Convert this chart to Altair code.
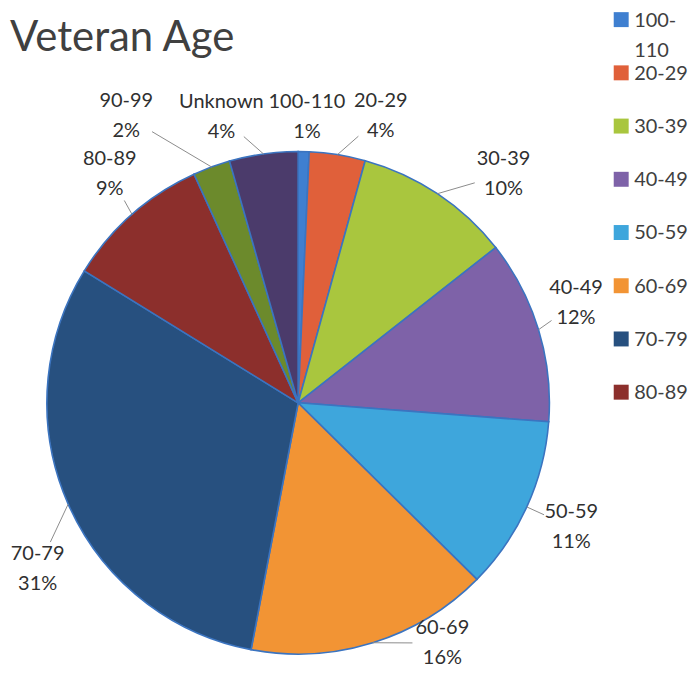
import math
import altair as alt
import pandas as pd

# ---------------- data ----------------
title_text = "Veteran Age"
categories = ["100-110", "20-29", "30-39", "40-49", "50-59",
              "60-69", "70-79", "80-89", "90-99", "Unknown"]
values = [0.7, 3.6, 10.1, 11.8, 11.2, 15.6, 30.8, 9.4, 2.4, 4.4]   # percent of veterans
legend_categories = categories[:8]                     # legend is cut off after 80-89

# ---------------- styles / layout ----------------
colors = ["#3f7fd0", "#e0603a", "#a9c63e", "#7e62a8", "#3ea6dc",
          "#f29434", "#27507f", "#8c2f2c", "#6c8a2c", "#4b3b6b"]
FONT = "Lato"
CX, CY, R = 291, 395, 252          # pie centre and radius inside the pie panel
LINE_H = 30                        # line height of the two-line data labels
label_nudge_deg = [0.5, 7.1, 8.3, -2.8, 0, -13.7, -8.8, 1.9, -10.8, -7.1]
label_radius = [287, 299, 308, 296, 301, 281, 310, 297, 335, 297]
GAP = 30

total = sum(values)
pie_df = pd.DataFrame({"cat": categories, "value": values, "idx": list(range(len(values)))})

# data-label positions (derived from the slice mid-angles)
lab_rows, line_rows = [], []
cum = 0
for i, (c, v) in enumerate(zip(categories, values)):
    mid = (cum + v / 2) / total * 2 * math.pi
    cum += v
    a = mid + math.radians(label_nudge_deg[i])
    bx = CX + label_radius[i] * math.sin(a)
    by = CY - label_radius[i] * math.cos(a)
    pct = round(100 * v / total)
    # first line is anchored at y: shift up by half a line so the block is centred
    lab_rows.append({"cat": c, "lx": bx, "ly": by - LINE_H / 2, "label": f"{c}\n{pct}%"})
    ex = CX + R * math.sin(mid)
    ey = CY - R * math.cos(mid)
    d = math.hypot(bx - ex, by - ey)
    if d - GAP >= 8:
        t = (d - GAP) / d
        line_rows.append({"cat": c, "x1": ex, "y1": ey,
                          "x2": ex + t * (bx - ex), "y2": ey + t * (by - ey)})
lab_df = pd.DataFrame(lab_rows)
line_df = pd.DataFrame(line_rows)

color_scale = alt.Scale(domain=categories, range=colors)

arcs = alt.Chart(pie_df).mark_arc(
    outerRadius=R, stroke="#3b74c0", strokeWidth=1.6
).encode(
    theta=alt.Theta("value:Q", stack=True),
    order=alt.Order("idx:Q"),
    color=alt.Color("cat:N", scale=color_scale, legend=None),
    x=alt.value(CX),
    y=alt.value(CY),
)

leaders = alt.Chart(line_df).mark_rule(color="#8c8c8c", strokeWidth=1).encode(
    x=alt.X("x1:Q", scale=None), y=alt.Y("y1:Q", scale=None),
    x2="x2:Q", y2="y2:Q",
)

labels = alt.Chart(lab_df).mark_text(
    font=FONT, fontSize=20, color="#303030", align="center",
    baseline="middle", lineBreak="\n", lineHeight=LINE_H,
).encode(
    x=alt.X("lx:Q", scale=None), y=alt.Y("ly:Q", scale=None), text="label:N",
)

title = alt.Chart(pd.DataFrame({"t": [title_text]})).mark_text(
    font=FONT, fontSize=42, color="#404040", align="left", baseline="alphabetic",
).encode(x=alt.value(2), y=alt.value(42), text="t:N")

pie = alt.layer(arcs, leaders, labels, title).properties(width=600, height=670)

leg_df = pd.DataFrame({
    "cat": legend_categories,
    "text": [c.replace("-", "-\n") if len(c) > 5 else c for c in legend_categories],
})
leg_y = alt.Y("cat:N", sort=legend_categories, axis=None,
              scale=alt.Scale(type="point", padding=0.2))
leg_sq = alt.Chart(leg_df).mark_square(size=225, opacity=1).encode(
    y=leg_y, color=alt.Color("cat:N", scale=color_scale, legend=None),
)
leg_tx = alt.Chart(leg_df).mark_text(
    font=FONT, fontSize=20, color="#404040", align="left", baseline="alphabetic",
    dx=13, dy=7, lineBreak="\n", lineHeight=30,
).encode(y=leg_y, text="text:N")
legend = alt.layer(leg_sq, leg_tx).properties(width=16, height=395)

chart = alt.hconcat(pie, legend, spacing=7).properties(padding=0).configure_view(stroke=None)

chart.save("out.html", embed_options={"renderer": "svg", "actions": False})
